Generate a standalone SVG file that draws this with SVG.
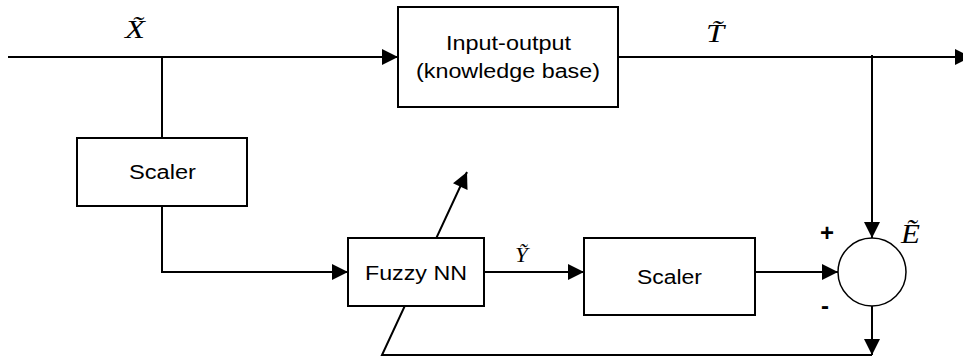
<svg xmlns="http://www.w3.org/2000/svg" width="963" height="362" viewBox="0 0 963 362">
<style>
.ln{fill:none;stroke:#000;stroke-width:2}
.box{fill:#fff;stroke:#000;stroke-width:2}
.lbl{font-family:"Liberation Sans",Arial,sans-serif;font-size:20px;fill:#000}
.math{font-family:"Liberation Serif","Times New Roman",serif;font-style:italic;font-size:26px;fill:#000}
.sign{font-family:"Liberation Sans",Arial,sans-serif;font-weight:bold;font-size:24px;fill:#000;text-anchor:middle}
</style>
<defs>
<marker id="ah" markerUnits="userSpaceOnUse" markerWidth="16" markerHeight="16" refX="16" refY="8" orient="auto" overflow="visible">
<path d="M0,0 L16,8 L0,16 Z" fill="#000"/>
</marker>
</defs>
<rect width="963" height="362" fill="#fff"/>
<g id="connectors">
<path class="ln" d="M8,57 H398" marker-end="url(#ah)"/>
<path class="ln" d="M162,57 V138"/>
<path class="ln" d="M618,57 H971" marker-end="url(#ah)"/>
<path class="ln" d="M872,55 V238" marker-end="url(#ah)"/>
<path class="ln" d="M162,206 V272 H348" marker-end="url(#ah)"/>
<path class="ln" d="M484,272 H584" marker-end="url(#ah)"/>
<path class="ln" d="M755,272 H838" marker-end="url(#ah)"/>
<path class="ln" d="M872,306 V355" marker-end="url(#ah)"/>
<path class="ln" d="M872,355 H382 L467,172" marker-end="url(#ah)"/>
</g>
<g id="io">
<rect class="box" x="398" y="7" width="220" height="100"/>
<text class="lbl" x="446" y="50" textLength="125" lengthAdjust="spacingAndGlyphs">Input-output</text>
<text class="lbl" x="416" y="78" textLength="184" lengthAdjust="spacingAndGlyphs">(knowledge base)</text>
</g>
<g id="scaler1">
<rect class="box" x="77" y="138" width="170" height="68"/>
<text class="lbl" x="129" y="179" textLength="67" lengthAdjust="spacingAndGlyphs">Scaler</text>
</g>
<g id="fuzzynn">
<rect class="box" x="348" y="238" width="136" height="68"/>
<text class="lbl" x="365" y="280" textLength="102" lengthAdjust="spacingAndGlyphs">Fuzzy NN</text>
</g>
<g id="scaler2">
<rect class="box" x="584" y="238" width="171" height="77"/>
<text class="lbl" x="637" y="284" textLength="65" lengthAdjust="spacingAndGlyphs">Scaler</text>
</g>
<g id="sum">
<circle cx="872" cy="272" r="34" fill="#fff" stroke="#000" stroke-width="1.5"/>
<text class="sign" x="827" y="241">+</text>
<text class="sign" x="825" y="314">-</text>
</g>
<g id="labels">
<text class="math" transform="translate(125,38) scale(1.25,1)">X&#x303;</text>
<text class="math" transform="translate(706,42) scale(1.25,1)">T&#x303;</text>
<text class="math" style="font-size:22px" transform="translate(515,262) scale(1.05,1)">Y&#x303;</text>
<text class="math" style="font-size:27px" transform="translate(901,243) scale(1.15,1)">E&#x303;</text>
</g>
</svg>
